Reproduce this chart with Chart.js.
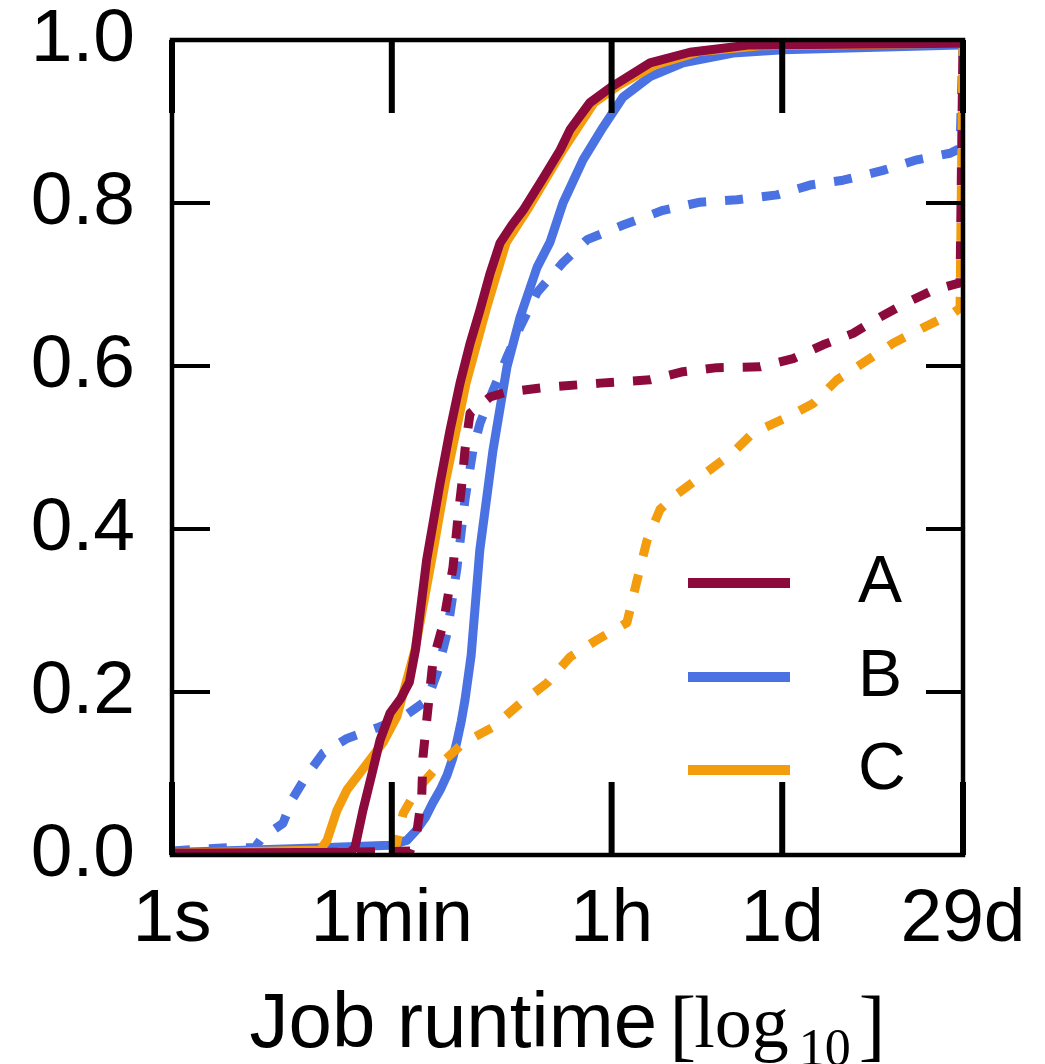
<!DOCTYPE html>
<html><head><meta charset="utf-8">
<script src="https://cdn.jsdelivr.net/npm/chart.js@4.4.1/dist/chart.umd.min.js"></script>
<style>html,body{margin:0;padding:0;background:#fff;overflow:hidden}</style>
</head><body>
<canvas id="c" width="1045" height="1064" style="width:1045px;height:1064px;display:block"></canvas>
<script>
// ---- data (x in log10 seconds, y = CDF) ----
const xTickSeconds = [1, 60, 3600, 86400, 2505600];
const xTickLabels = ['1s', '1min', '1h', '1d', '29d'];
const yTickValues = [0, 0.2, 0.4, 0.6, 0.8, 1.0];
const seriesNames = ['A', 'B', 'C'];
const seriesColors = ['#8c0a3c', '#4a72e2', '#f29c0e'];

const aSolidX = [0, 1.036, 1.44, 1.48, 1.545, 1.618, 1.683, 1.764, 1.85, 1.92, 1.97, 2.06, 2.168, 2.25, 2.33, 2.41, 2.492, 2.57, 2.654, 2.75, 2.84, 3.0, 3.14, 3.22, 3.38, 3.56, 3.867, 4.19, 4.676, 6.375, 6.399, 6.399];
const aSolidY = [0.002, 0.003, 0.003, 0.009, 0.055, 0.10, 0.141, 0.174, 0.192, 0.212, 0.252, 0.362, 0.456, 0.522, 0.579, 0.627, 0.669, 0.712, 0.751, 0.773, 0.791, 0.830, 0.865, 0.890, 0.923, 0.943, 0.972, 0.985, 0.994, 0.996, 1.0, 0];

const bSolidX = [0, 1.036, 1.764, 1.90, 1.98, 2.05, 2.11, 2.17, 2.225, 2.27, 2.306, 2.34, 2.37, 2.42, 2.49, 2.597, 2.71, 2.816, 2.953, 3.058, 3.163, 3.325, 3.487, 3.649, 3.867, 4.134, 4.539, 4.943, 6.375, 6.399];
const bSolidY = [0.003, 0.008, 0.012, 0.018, 0.031, 0.046, 0.064, 0.080, 0.098, 0.118, 0.140, 0.164, 0.190, 0.245, 0.374, 0.497, 0.599, 0.660, 0.721, 0.752, 0.800, 0.853, 0.893, 0.930, 0.955, 0.972, 0.984, 0.988, 0.994, 1.0];

const cSolidX = [0, 1.197, 1.254, 1.335, 1.416, 1.497, 1.602, 1.707, 1.82, 1.90, 1.966, 2.10, 2.209, 2.379, 2.54, 2.702, 2.872, 3.163, 3.414, 3.60, 3.90, 4.27, 4.757, 6.375, 6.399];
const cSolidY = [0.002, 0.006, 0.018, 0.055, 0.080, 0.096, 0.117, 0.138, 0.170, 0.215, 0.252, 0.362, 0.456, 0.579, 0.669, 0.751, 0.791, 0.865, 0.923, 0.943, 0.969, 0.986, 0.993, 0.996, 1.0];

const aDashX = [0, 1.764, 1.926, 1.98, 2.02, 2.03, 2.063, 2.112, 2.193, 2.273, 2.314, 2.346, 2.37, 2.411, 2.573, 2.71, 3.034, 3.463, 3.867, 4.134, 4.41, 4.757, 5.024, 5.267, 5.51, 5.728, 5.947, 6.157, 6.375, 6.399];
const aDashY = [0.002, 0.004, 0.005, 0.027, 0.071, 0.120, 0.169, 0.239, 0.283, 0.353, 0.415, 0.457, 0.497, 0.542, 0.562, 0.568, 0.574, 0.579, 0.583, 0.593, 0.598, 0.599, 0.609, 0.626, 0.640, 0.660, 0.678, 0.693, 0.702, 1.0];

const bDashX = [0, 0.445, 0.67, 0.728, 0.898, 0.979, 1.092, 1.222, 1.416, 1.659, 1.869, 2.063, 2.144, 2.225, 2.306, 2.37, 2.435, 2.492, 2.597, 2.71, 2.816, 2.953, 3.163, 3.358, 3.649, 3.972, 4.272, 4.571, 4.895, 5.162, 5.429, 5.752, 6.027, 6.294, 6.375, 6.399];
const bDashY = [0.005, 0.009, 0.009, 0.021, 0.039, 0.070, 0.098, 0.125, 0.143, 0.156, 0.169, 0.190, 0.223, 0.272, 0.353, 0.436, 0.497, 0.530, 0.570, 0.611, 0.648, 0.690, 0.727, 0.755, 0.773, 0.791, 0.801, 0.804, 0.810, 0.822, 0.828, 0.840, 0.853, 0.861, 0.867, 1.0];

const cDashX = [0, 1.80, 1.87, 1.98, 2.144, 2.354, 2.597, 2.816, 3.034, 3.22, 3.438, 3.68, 3.762, 3.843, 3.948, 4.086, 4.328, 4.539, 4.70, 4.976, 5.186, 5.38, 5.623, 5.833, 6.076, 6.319, 6.375, 6.399];
const cDashY = [0.002, 0.003, 0.051, 0.080, 0.108, 0.137, 0.157, 0.186, 0.211, 0.243, 0.264, 0.285, 0.337, 0.386, 0.424, 0.443, 0.470, 0.494, 0.518, 0.537, 0.554, 0.583, 0.607, 0.628, 0.647, 0.665, 0.671, 1.0];

const xTickVals = xTickSeconds.map(s => Math.log10(s));
const toPts = (xs, ys) => xs.map((x, i) => ({x, y: ys[i]}));

function ds(label, xs, ys, color, dashed, order) {
  return {
    label, data: toPts(xs, ys), borderColor: color, backgroundColor: color,
    borderWidth: 9, borderDash: dashed ? [18, 19] : [], borderCapStyle: 'butt',
    borderJoinStyle: 'round', pointRadius: 0, tension: 0, fill: false, order
  };
}

const SANS = '"Liberation Sans", Arial, Helvetica, sans-serif';
const SERIF = '"Liberation Serif", "Times New Roman", serif';

const framePlugin = {
  id: 'frame',
  afterDatasetsDraw(chart) {
    const {ctx, chartArea: a, scales: {x, y}} = chart;
    ctx.save();
    ctx.strokeStyle = '#000';
    ctx.lineCap = 'butt';
    ctx.lineWidth = 6;
    xTickVals.forEach(v => {
      const px = x.getPixelForValue(v);
      ctx.beginPath();
      ctx.moveTo(px, a.bottom); ctx.lineTo(px, a.bottom - 73);
      ctx.moveTo(px, a.top); ctx.lineTo(px, a.top + 73);
      ctx.stroke();
    });
    ctx.lineWidth = 4;
    yTickValues.forEach(v => {
      const py = y.getPixelForValue(v);
      ctx.beginPath();
      ctx.moveTo(a.left, py); ctx.lineTo(a.left + 38, py);
      ctx.moveTo(a.right, py); ctx.lineTo(a.right - 37, py);
      ctx.stroke();
    });
    ctx.lineWidth = 4.5;
    ctx.strokeRect(a.left, a.top, a.right - a.left, a.bottom - a.top);

    // legend (solid lines only)
    const lx0 = a.left + 516, lx1 = a.left + 618, tx = a.left + 686;
    const ly = [a.top + 543, a.top + 637, a.top + 730];
    ctx.lineWidth = 10;
    ctx.font = '66px ' + SANS;
    ctx.textAlign = 'left';
    ctx.textBaseline = 'middle';
    ctx.fillStyle = '#000';
    seriesNames.forEach((n, i) => {
      ctx.strokeStyle = seriesColors[i];
      ctx.beginPath(); ctx.moveTo(lx0, ly[i]); ctx.lineTo(lx1, ly[i]); ctx.stroke();
      ctx.fillText(n, tx, ly[i] + 1);
    });
    ctx.restore();
  },
  afterDraw(chart) {
    const {ctx, chartArea: a} = chart;
    ctx.save();
    ctx.fillStyle = '#000';
    ctx.textBaseline = 'alphabetic';
    ctx.textAlign = 'left';
    const base = 1047;
    const cx = (a.left + a.right) / 2;
    ctx.font = '78px ' + SANS;
    ctx.fillText('Job runtime', cx - 318, base);
    let xx = cx + 102;
    ctx.font = '80px ' + SERIF;
    ctx.fillText('[', xx, base + 4);
    xx += ctx.measureText('[').width - 2;
    ctx.font = '74px ' + SERIF;
    ctx.fillText('log', xx, base);
    xx += ctx.measureText('log').width + 10;
    ctx.font = '52px ' + SERIF;
    ctx.fillText('10', xx, base + 18);
    xx += ctx.measureText('10').width + 8;
    ctx.font = '80px ' + SERIF;
    ctx.fillText(']', xx, base + 4);
    ctx.restore();
  }
};

new Chart(document.getElementById('c'), {
  type: 'line',
  data: {
    datasets: [
      ds('A', aSolidX, aSolidY, seriesColors[0], false, 0),
      ds('C', cSolidX, cSolidY, seriesColors[2], false, 1),
      ds('A dashed', aDashX, aDashY, seriesColors[0], true, 2),
      ds('C dashed', cDashX, cDashY, seriesColors[2], true, 3),
      ds('B', bSolidX, bSolidY, seriesColors[1], false, 4),
      ds('B dashed', bDashX, bDashY, seriesColors[1], true, 5)
    ]
  },
  options: {
    responsive: false,
    animation: false,
    devicePixelRatio: 1,
    layout: {padding: {top: 40, right: 82, left: 0, bottom: 0}},
    plugins: {legend: {display: false}, tooltip: {enabled: false}, title: {display: false}},
    scales: {
      x: {
        type: 'linear', min: 0, max: Math.log10(2505600),
        grid: {display: false, drawTicks: false},
        border: {display: false},
        afterBuildTicks: s => { s.ticks = xTickVals.map(v => ({value: v})); },
        afterFit: s => { s.height = 209; s.paddingLeft = 0; s.paddingRight = 0; },
        ticks: {
          autoSkip: false, maxRotation: 0, minRotation: 0, padding: 28,
          color: '#000', font: {family: SANS, size: 75, lineHeight: 1},
          callback: (v) => { const i = xTickVals.findIndex(t => Math.abs(t - v) < 1e-6); return i >= 0 ? xTickLabels[i] : ''; }
        }
      },
      y: {
        type: 'linear', min: 0, max: 1,
        grid: {display: false, drawTicks: false},
        border: {display: false},
        afterBuildTicks: s => { s.ticks = yTickValues.map(v => ({value: v})); },
        afterFit: s => { s.width = 172; s.paddingTop = 0; s.paddingBottom = 0; },
        ticks: {
          autoSkip: false, padding: 37, color: '#000',
          font: {family: SANS, size: 75, lineHeight: 1},
          callback: v => Number(v).toFixed(1)
        }
      }
    }
  },
  plugins: [framePlugin]
});
</script>
</body></html>
